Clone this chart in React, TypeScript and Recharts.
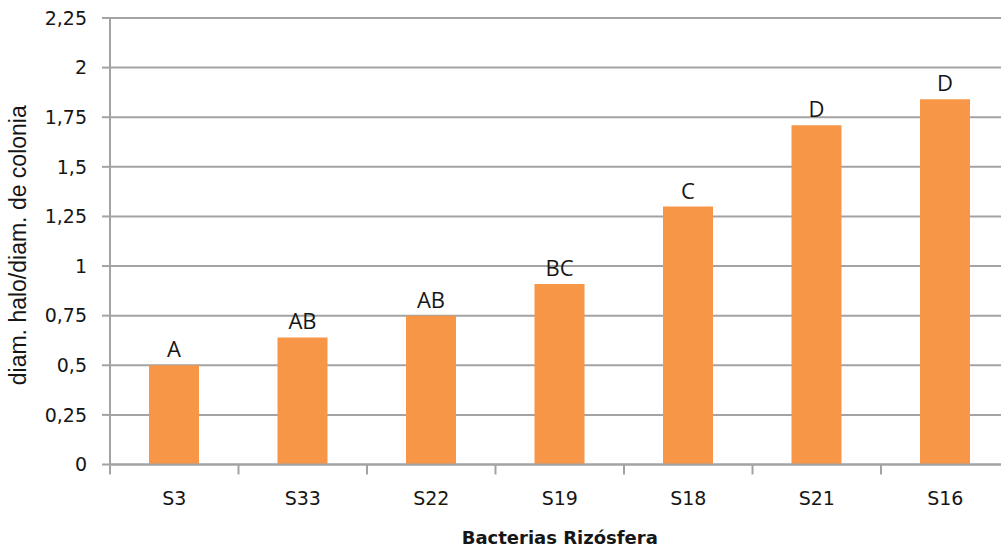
import React from "react";
import { Bar, BarChart, CartesianGrid, LabelList, XAxis, YAxis } from "recharts";

const cepas = ["S3", "S33", "S22", "S19", "S18", "S21", "S16"];
const indice = [0.5, 0.64, 0.75, 0.91, 1.3, 1.71, 1.84];
const grupos = ["A", "AB", "AB", "BC", "C", "D", "D"];
const yTicks = [0, 0.25, 0.5, 0.75, 1, 1.25, 1.5, 1.75, 2, 2.25];

const data = cepas.map((cepa, i) => ({ cepa, indice: indice[i], grupo: grupos[i] }));

const CHART_W = 1020;
const CHART_H = 550;
const MARGIN = { top: 18, right: 10.5, bottom: 0.5, left: 8 };
const Y_AXIS_W = 102;
const PLOT_W = CHART_W - MARGIN.left - MARGIN.right - Y_AXIS_W;
const BAND = PLOT_W / cepas.length;

const TEXT = "#161616";
const GRID = "#a3a3a3";
const TICK_FONT = "'DejaVu Sans', Tahoma, sans-serif";

const fmt = (v: number) => String(v).replace(".", ",");

// Excel style: tick marks sit between categories, labels in the middle
const CategoryTick = (props: any) => {
  const { x, y, payload, index } = props;
  const last = index === cepas.length - 1;
  return (
    <g>
      <line x1={x - BAND / 2} x2={x - BAND / 2} y1={y} y2={y + 10} stroke={GRID} strokeWidth={2} />
      {last && <line x1={x + BAND / 2} x2={x + BAND / 2} y1={y} y2={y + 10} stroke={GRID} strokeWidth={2} />}
      <text x={x} y={y + 40} textAnchor="middle" fill={TEXT} fontSize={19} fontFamily={TICK_FONT}>
        {payload.value}
      </text>
    </g>
  );
};

export default function App() {
  return (
    <div style={{ position: "absolute", left: 0, top: 0, width: 1001, height: 550, overflow: "hidden", background: "#fff" }}>
      <BarChart width={CHART_W} height={CHART_H} data={data} margin={MARGIN} barCategoryGap={0}>
        <CartesianGrid vertical={false} stroke={GRID} strokeWidth={2} />
        <XAxis
          dataKey="cepa"
          height={85}
          axisLine={{ stroke: GRID, strokeWidth: 2 }}
          tickLine={false}
          tickSize={0}
          tickMargin={0}
          interval={0}
          tick={<CategoryTick />}
          label={{
            value: "Bacterias Rizósfera",
            position: "insideBottom",
            offset: 6,
            fill: TEXT,
            fontSize: 18,
            fontWeight: "bold",
            fontFamily: TICK_FONT,
          }}
        />
        <YAxis
          width={Y_AXIS_W}
          domain={[0, 2.25]}
          ticks={yTicks}
          interval={0}
          tickFormatter={fmt}
          tickSize={8}
          tickMargin={15}
          axisLine={{ stroke: GRID, strokeWidth: 2 }}
          tickLine={{ stroke: GRID, strokeWidth: 2 }}
          tick={{ fill: TEXT, fontSize: 19, fontFamily: TICK_FONT }}
          label={{
            value: "diam. halo/diam. de colonia",
            angle: -90,
            position: "center",
            dx: -41,
            dy: 4,
            fill: TEXT,
            fontSize: 23,
            fontFamily: "'Liberation Sans', Arial, sans-serif",
          }}
        />
        <Bar dataKey="indice" fill="#f79646" barSize={50} isAnimationActive={false}>
          <LabelList
            dataKey="grupo"
            position="top"
            offset={8}
            fill={TEXT}
            fontSize={22}
            fontFamily="'Open Sans', sans-serif"
          />
        </Bar>
      </BarChart>
    </div>
  );
}
